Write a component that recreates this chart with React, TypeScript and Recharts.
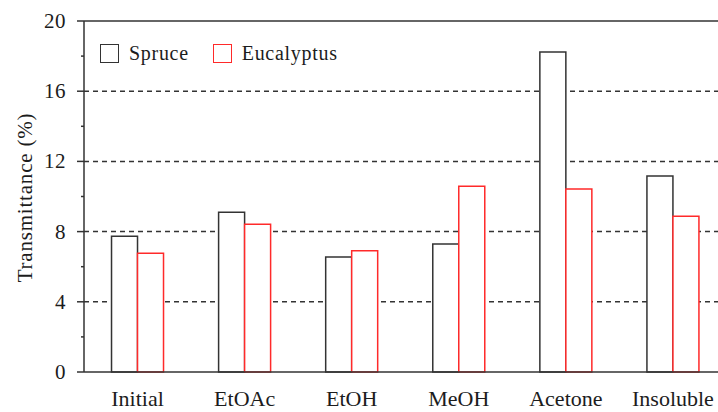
import { Bar, BarChart, CartesianGrid, Legend, ReferenceLine, XAxis, YAxis } from "recharts";

const categories = ["Initial", "EtOAc", "EtOH", "MeOH", "Acetone", "Insoluble"];
const spruce = [7.73, 9.1, 6.55, 7.29, 18.23, 11.17];
const eucalyptus = [6.76, 8.42, 6.91, 10.58, 10.43, 8.87];
const yTicks = [0, 2, 4, 6, 8, 10, 12, 14, 16, 18, 20];
const gridValues = [4, 8, 12, 16];

const series = [
  { key: "spruce", name: "Spruce", color: "#333333" },
  { key: "eucalyptus", name: "Eucalyptus", color: "#ff2a2a" },
];

const data = categories.map((name, i) => ({
  name,
  spruce: spruce[i],
  eucalyptus: eucalyptus[i],
}));

const FONT = '"Liberation Serif", "Times New Roman", serif';
const INK = "#1c1c1c";
const AXIS = "#333333";
const TICK_MARGIN = 11;
const TICK_SIZE = 7;

// major ticks every 4 get a label and a long mark, the rest a short mark
const YTick = (props: { x?: number; y?: number; payload?: { value: number } }) => {
  const { x = 0, y = 0, payload } = props;
  const v = payload?.value ?? 0;
  const major = v % 4 === 0;
  const axisX = x + TICK_MARGIN + TICK_SIZE;
  return (
    <g>
      <line
        x1={axisX - (major ? TICK_SIZE : 3)}
        x2={axisX}
        y1={y}
        y2={y}
        stroke={AXIS}
        strokeWidth={1.5}
      />
      {major && (
        <text
          x={x}
          y={y}
          textAnchor="end"
          dominantBaseline="central"
          fontFamily={FONT}
          fontSize={21}
          letterSpacing={0.5}
          fill={INK}
        >
          {v}
        </text>
      )}
    </g>
  );
};

const XTick = (props: { x?: number; y?: number; payload?: { value: string } }) => {
  const { x = 0, y = 0, payload } = props;
  return (
    <text
      x={x}
      y={y}
      dy={26}
      textAnchor="middle"
      fontFamily={FONT}
      fontSize={22}
      fill={INK}
    >
      {payload?.value}
    </text>
  );
};

const YLabel = (props: { viewBox?: { x: number; y: number; width: number; height: number } }) => {
  const vb = props.viewBox ?? { x: 0, y: 0, width: 0, height: 0 };
  const cx = vb.x + 25;
  const cy = vb.y + vb.height / 2 + 1;
  return (
    <text
      x={cx}
      y={cy}
      transform={`rotate(-90, ${cx}, ${cy})`}
      textAnchor="middle"
      dominantBaseline="central"
      fontFamily={FONT}
      fontSize={21}
      letterSpacing={0.8}
      fill={INK}
    >
      Transmittance (%)
    </text>
  );
};

const LegendContent = () => (
  <div style={{ display: "flex", alignItems: "center", fontFamily: FONT }}>
    {series.map((s) => (
      <div key={s.key} style={{ display: "flex", alignItems: "center", marginRight: 24 }}>
        <span
          style={{
            display: "inline-block",
            width: 17,
            height: 17,
            border: `1.5px solid ${s.color}`,
            background: "#fff",
            marginRight: 10,
          }}
        />
        <span style={{ fontSize: 20, letterSpacing: 0.7, color: INK }}>{s.name}</span>
      </div>
    ))}
  </div>
);

export default function App() {
  return (
    <div
      style={{
        position: "absolute",
        left: 0,
        top: 0,
        width: 718,
        height: 412,
        overflow: "hidden",
        background: "#fff",
      }}
    >
      <BarChart
        width={740}
        height={412}
        data={data}
        margin={{ top: 21, right: 13.5, bottom: 0, left: 0 }}
        barCategoryGap="25.7%"
        barGap={0}
      >
        <CartesianGrid
          vertical={false}
          horizontalValues={gridValues}
          stroke={AXIS}
          strokeWidth={1.5}
          strokeDasharray="5 4"
        />
        <XAxis
          dataKey="name"
          height={40}
          axisLine={{ stroke: AXIS, strokeWidth: 1.5 }}
          tickLine={false}
          tick={<XTick />}
          interval={0}
        />
        <YAxis
          width={84}
          domain={[0, 20]}
          ticks={yTicks}
          interval={0}
          axisLine={{ stroke: AXIS, strokeWidth: 1.5 }}
          tickLine={false}
          tickMargin={TICK_MARGIN}
          tickSize={TICK_SIZE}
          tick={<YTick />}
          label={<YLabel />}
        />
        <ReferenceLine y={20} stroke={AXIS} strokeWidth={1.5} />
        <Legend
          layout="horizontal"
          verticalAlign="middle"
          align="center"
          content={<LegendContent />}
          wrapperStyle={{ top: 42, left: 100, width: "auto", height: "auto" }}
        />
        {series.map((s) => (
          <Bar
            key={s.key}
            dataKey={s.key}
            name={s.name}
            fill="#ffffff"
            stroke={s.color}
            strokeWidth={1.5}
            isAnimationActive={false}
          />
        ))}
      </BarChart>
    </div>
  );
}
